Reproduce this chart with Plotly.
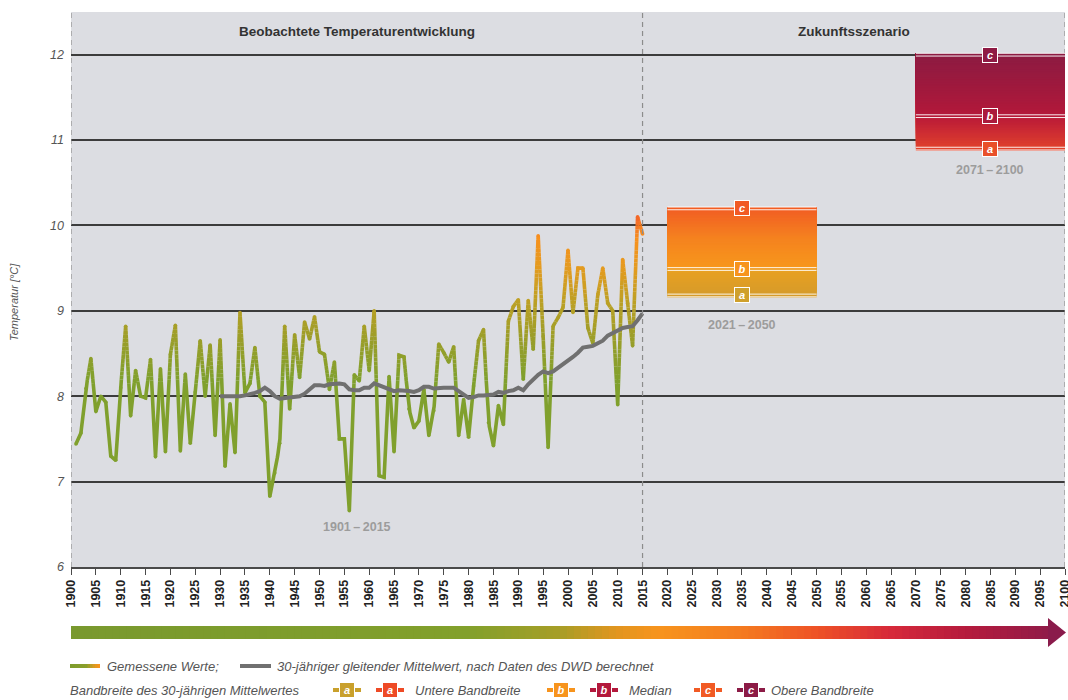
import math
import plotly.graph_objects as go

# ---------------- data ----------------
years = list(range(1901, 2016))
temps = [
    7.44, 7.57, 8.09, 8.44, 7.82, 8.00, 7.93, 7.30, 7.25, 8.10,   # 1901-1910
    8.82, 7.77, 8.30, 8.00, 7.98, 8.43, 7.29, 8.32, 7.35, 8.49,   # 1911-1920
    8.83, 7.36, 8.26, 7.45, 8.05, 8.65, 8.00, 8.60, 7.54, 8.66,   # 1921-1930
    7.18, 7.91, 7.34, 8.98, 8.04, 8.15, 8.57, 8.00, 7.93, 6.83,   # 1931-1940
    7.10, 7.45, 8.82, 7.85, 8.72, 8.22, 8.87, 8.67, 8.93, 8.52,   # 1941-1950
    8.49, 8.08, 8.40, 7.50, 7.50, 6.66, 8.25, 8.18, 8.82, 8.30,   # 1951-1960
    9.00, 7.07, 7.05, 8.23, 7.35, 8.48, 8.46, 7.85, 7.63, 7.71,   # 1961-1970
    8.08, 7.54, 7.83, 8.61, 8.51, 8.40, 8.58, 7.54, 7.96, 7.52,   # 1971-1980
    8.12, 8.65, 8.78, 7.69, 7.42, 7.89, 7.67, 8.88, 9.05, 9.13,   # 1981-1990
    8.20, 9.12, 8.55, 9.88, 8.70, 7.40, 8.82, 8.92, 9.04, 9.71,   # 1991-2000
    8.98, 9.50, 9.50, 8.80, 8.62, 9.19, 9.50, 9.09, 9.00, 7.90,   # 2001-2010
    9.60, 9.09, 8.59, 10.10, 9.90,                                # 2011-2015
]

ma_years = list(range(1930, 2016))
ma_vals = [
    8.00, 8.00, 8.00, 7.99, 8.00, 8.01, 8.02, 8.04, 8.06, 8.10,   # 1930-1939
    8.06, 8.00, 7.97, 7.98, 7.99, 8.00, 8.00, 8.03, 8.08, 8.13,   # 1940-1949
    8.13, 8.12, 8.14, 8.15, 8.15, 8.14, 8.08, 8.07, 8.07, 8.10,   # 1950-1959
    8.10, 8.15, 8.13, 8.10, 8.08, 8.06, 8.07, 8.07, 8.06, 8.05,   # 1960-1969
    8.07, 8.11, 8.11, 8.09, 8.10, 8.10, 8.10, 8.10, 8.06, 8.02,   # 1970-1979
    7.98, 7.99, 8.01, 8.01, 8.02, 8.02, 8.05, 8.04, 8.06, 8.07,   # 1980-1989
    8.10, 8.07, 8.14, 8.20, 8.25, 8.29, 8.27, 8.29, 8.33, 8.38,   # 1990-1999
    8.42, 8.46, 8.51, 8.57, 8.58, 8.59, 8.62, 8.65, 8.71, 8.74,   # 2000-2009
    8.77, 8.80, 8.81, 8.82, 8.89, 8.97,                           # 2010-2015
]

scen_periods = ["2021\u2009\u2013\u20092050", "2071\u2009\u2013\u20092100"]
scen_x0 = [2020, 2070]
scen_x1 = [2050, 2100]
band_a = [9.18, 10.90]
band_b = [9.49, 11.28]
band_c = [10.20, 12.00]

x_ticks = list(range(1900, 2101, 5))
y_ticks = [6, 7, 8, 9, 10, 11, 12]

section_titles = ["Beobachtete Temperaturentwicklung", "Zukunftsszenario"]
observed_label = "1901\u2009\u2013\u20092015"

# ---------------- helpers ----------------
W, H = 1068, 700
ML, MR, MT, MB = 71, 3, 12, 133
PW = W - ML - MR
PH = H - MT - MB
FONT = "Liberation Sans"


def px_x(px):
    return (px - ML) / PW


def px_y(py):
    return (H - MB - py) / PH


def h2rgb(h):
    return tuple(int(h[i:i + 2], 16) for i in (1, 3, 5))


def interp(stops, v):
    if v <= stops[0][0]:
        return stops[0][1]
    if v >= stops[-1][0]:
        return stops[-1][1]
    for (p0, c0), (p1, c1) in zip(stops[:-1], stops[1:]):
        if p0 <= v <= p1:
            t = (v - p0) / (p1 - p0) if p1 > p0 else 0
            a, b = h2rgb(c0), h2rgb(c1)
            return "#%02x%02x%02x" % tuple(int(round(a[i] + (b[i] - a[i]) * t)) for i in range(3))
    return stops[-1][1]


LINE_STOPS = [(8.2, "#80A02D"), (8.7, "#9D9E29"), (9.1, "#BCA024"),
              (9.5, "#E39B20"), (9.85, "#F7911D"), (10.15, "#F2602A")]

fig = go.Figure()

# ---------------- measured line, coloured by value ----------------
BW = 0.05
pieces = []
for i in range(len(years) - 1):
    x0, y0, x1, y1 = years[i], temps[i], years[i + 1], temps[i + 1]
    n = max(1, int(math.ceil(abs(y1 - y0) / BW)))
    for k in range(n):
        t0, t1 = k / n, (k + 1) / n
        xa, ya = x0 + (x1 - x0) * t0, y0 + (y1 - y0) * t0
        xb, yb = x0 + (x1 - x0) * t1, y0 + (y1 - y0) * t1
        col = interp(LINE_STOPS, round(((ya + yb) / 2) / BW) * BW)
        pieces.append((xa, ya, xb, yb, col))

by_col = {}
cur_col, cx, cy = None, [], []


def flush():
    if cur_col is None:
        return
    d = by_col.setdefault(cur_col, ([], []))
    d[0].extend(cx + [None])
    d[1].extend(cy + [None])


for xa, ya, xb, yb, col in pieces:
    if col != cur_col:
        flush()
        cur_col, cx, cy = col, [xa], [ya]
    cx.append(xb)
    cy.append(yb)
flush()

for col, (xs, ys) in by_col.items():
    fig.add_trace(go.Scatter(x=xs, y=ys, mode="lines",
                             line=dict(color=col, width=3.6),
                             hoverinfo="skip", showlegend=False))

fig.add_trace(go.Scatter(x=years, y=temps, mode="markers",
                         marker=dict(size=3.6, color=[interp(LINE_STOPS, v) for v in temps], line=dict(width=0)),
                         hoverinfo="skip", showlegend=False))

# ---------------- moving average ----------------
fig.add_trace(go.Scatter(x=ma_years, y=ma_vals, mode="lines",
                         line=dict(color="#707070", width=4),
                         hoverinfo="skip", showlegend=False))

shapes = []
annots = []

# vertical dashed separators
for xv in (1900, 2015, 2100):
    shapes.append(dict(type="line", xref="x", yref="paper", x0=xv, x1=xv, y0=0, y1=1,
                       line=dict(color="#8c8c8c", width=1.2, dash="5px,4px"), layer="above"))

# ---------------- scenario boxes ----------------
BOX_STOPS = [
    [(9.15, "#D39A2B"), (9.47, "#E8A021"), (9.51, "#F7971C"), (9.85, "#F5821F"), (10.23, "#F15A24")],
    [(10.86, "#E4472A"), (11.1, "#CC2B33"), (11.26, "#BA1A37"), (11.3, "#B3183A"),
     (11.6, "#A0193D"), (12.01, "#8C1B42")],
]
LABEL_COL = [
    {"a": "#CFA02C", "b": "#F7941D", "c": "#F15A24"},
    {"a": "#E9502A", "b": "#AB1A3C", "c": "#8E1A44"},
]
for j in range(2):
    ylo = band_a[j] - 0.025
    yhi = band_c[j] + 0.015
    n = 60
    step = (yhi - ylo) / n
    for k in range(n):
        y0 = ylo + k * step
        shapes.append(dict(type="rect", xref="x", yref="y", x0=scen_x0[j], x1=scen_x1[j], y0=y0, y1=yhi,
                           fillcolor=interp(BOX_STOPS[j], y0 + step / 2), line=dict(width=0), layer="above"))
    for lev in (band_a[j], band_b[j], band_c[j]):
        for off in (-0.016, 0.016):
            shapes.append(dict(type="line", xref="x", yref="y", x0=scen_x0[j], x1=scen_x1[j],
                               y0=lev + off, y1=lev + off,
                               line=dict(color="rgba(255,255,255,0.9)", width=1), layer="above"))
    xm = (scen_x0[j] + scen_x1[j]) / 2
    for lev, lab in ((band_a[j], "a"), (band_b[j], "b"), (band_c[j], "c")):
        annots.append(dict(x=xm, y=lev, xref="x", yref="y", text="<b><i>%s</i></b>" % lab, showarrow=False,
                           xanchor="center", yanchor="middle",
                           font=dict(family=FONT, size=11, color="white"),
                           bgcolor=LABEL_COL[j][lab], bordercolor="white", borderwidth=1, borderpad=1,
                           width=12, height=12, align="center", valign="middle"))

# period labels
for xv, yv, txt in ((2035, 8.84, scen_periods[0]), (2085, 10.65, scen_periods[1]), (1957.5, 6.47, observed_label)):
    annots.append(dict(x=xv, y=yv, xref="x", yref="y", text="<b>%s</b>" % txt, showarrow=False,
                       xanchor="center", yanchor="middle",
                       font=dict(family=FONT, size=12.5, color="#9C9C9C")))

# section titles
annots.append(dict(x=1957.5, y=12.27, xref="x", yref="y", text="<b>%s</b>" % section_titles[0], showarrow=False,
                   xanchor="center", yanchor="middle",
                   font=dict(family=FONT, size=13.5, color="#333333")))
annots.append(dict(x=2057.5, y=12.27, xref="x", yref="y", text="<b>%s</b>" % section_titles[1], showarrow=False,
                   xanchor="center", yanchor="middle",
                   font=dict(family=FONT, size=13.5, color="#333333")))

# y axis title
annots.append(dict(x=px_x(14), y=px_y(302), xref="paper", yref="paper", text="Temperatur [°C]",
                   textangle=-90, showarrow=False, xanchor="center", yanchor="middle",
                   font=dict(family=FONT, size=11, color="#555555", style="italic")))

# ---------------- gradient time arrow ----------------
ARROW_STOPS = [(1900, "#79992E"), (1980, "#82A02C"), (1998, "#A69E27"), (2010, "#E2951F"),
               (2018, "#F7941D"), (2035, "#F47B20"), (2050, "#EE5226"), (2065, "#D6293A"),
               (2080, "#B51B3D"), (2100, "#8A1B4B")]
ax0, ax1 = 71, 1049
n = 140
wpx = (ax1 - ax0) / n
for k in range(n):
    p0 = ax0 + k * wpx
    yr = 1900 + ((p0 + wpx / 2) - 71) / PW * 200
    shapes.append(dict(type="rect", xref="paper", yref="paper", x0=px_x(p0), x1=px_x(ax1 + 0.5),
                       y0=px_y(639), y1=px_y(626), fillcolor=interp(ARROW_STOPS, yr),
                       line=dict(width=0), layer="above"))
shapes.append(dict(type="path", xref="paper", yref="paper",
                   path="M %f,%f L %f,%f L %f,%f Z" % (px_x(1048), px_y(618), px_x(1066), px_y(632.5),
                                                        px_x(1048), px_y(647)),
                   fillcolor="#8A1B4B", line=dict(width=0), layer="above"))

# ---------------- custom legend ----------------
FONT_LEG = dict(family=FONT, size=13, color="#555555", style="italic")
r1 = 666
r2 = 690
SAMPLE_STOPS = [(0, "#7E9C2C"), (0.55, "#8A9F2B"), (0.8, "#D39C22"), (1, "#F7941D")]
ns = 12
for k in range(ns):
    p0 = 70 + k * 30 / ns
    shapes.append(dict(type="rect", xref="paper", yref="paper", x0=px_x(p0), x1=px_x(100),
                       y0=px_y(r1 + 2), y1=px_y(r1 - 2), fillcolor=interp(SAMPLE_STOPS, k / (ns - 1)),
                       line=dict(width=0), layer="above"))
shapes.append(dict(type="rect", xref="paper", yref="paper", x0=px_x(240), x1=px_x(271),
                   y0=px_y(r1 + 2), y1=px_y(r1 - 2), fillcolor="#707070", line=dict(width=0), layer="above"))
leg_texts = [(105, r1, "Gemessene Werte;"),
             (275, r1, "30-jähriger gleitender Mittelwert, nach Daten des DWD berechnet"),
             (68, r2, "Bandbreite des 30-jährigen Mittelwertes"),
             (413, r2, "Untere Bandbreite"),
             (627, r2, "Median"),
             (769, r2, "Obere Bandbreite")]
for xp, yp, txt in leg_texts:
    annots.append(dict(x=px_x(xp), y=px_y(yp), xref="paper", yref="paper", xanchor="left", yanchor="middle",
                       text=txt, showarrow=False, font=FONT_LEG))

leg_marks = [(347, "#C9A02C", "a"), (390, "#EE4A26", "a"), (561, "#F7941D", "b"),
             (604, "#B3193C", "b"), (708, "#F15A24", "c"), (751, "#8C1B46", "c")]
for cxp, col, lab in leg_marks:
    shapes.append(dict(type="rect", xref="paper", yref="paper", x0=px_x(cxp - 14), x1=px_x(cxp + 14),
                       y0=px_y(r2 + 2), y1=px_y(r2 - 2), fillcolor=col, line=dict(width=0), layer="above"))
    annots.append(dict(x=px_x(cxp), y=px_y(r2), xref="paper", yref="paper", text="<b><i>%s</i></b>" % lab,
                       showarrow=False, xanchor="center", yanchor="middle",
                       font=dict(family=FONT, size=11, color="white"),
                       bgcolor=col, bordercolor="white", borderwidth=1, borderpad=1, width=12, height=12))

fig.update_layout(
    width=W, height=H, autosize=False,
    margin=dict(l=ML, r=MR, t=MT, b=MB, pad=0, autoexpand=False),
    paper_bgcolor="white", plot_bgcolor="#DCDDE2",
    showlegend=False,
    font=dict(family=FONT),
    shapes=shapes, annotations=annots,
    xaxis=dict(range=[1900, 2100], tickvals=x_ticks, ticktext=[str(v) for v in x_ticks],
               tickangle=-90, showgrid=False, zeroline=False, automargin=False,
               ticklabeloverflow="allow",
               showline=True, linecolor="#4a4a4a", linewidth=1.5,
               ticks="outside", ticklen=6, tickwidth=1.2, tickcolor="#4a4a4a",
               tickfont=dict(family=FONT, size=12.5, color="#222222", weight="bold")),
    yaxis=dict(range=[6, 12.5], tickvals=y_ticks, showgrid=True, gridcolor="#3c3c3c", gridwidth=1.5,
               zeroline=False, showline=False, ticks="", ticklabelstandoff=6, automargin=False,
               tickfont=dict(family=FONT, size=12.5, color="#555555", style="italic")),
)

fig.write_html("out.html", config={"displayModeBar": False},
               post_script="document.body.style.margin='0px';document.body.style.overflow='hidden';")
